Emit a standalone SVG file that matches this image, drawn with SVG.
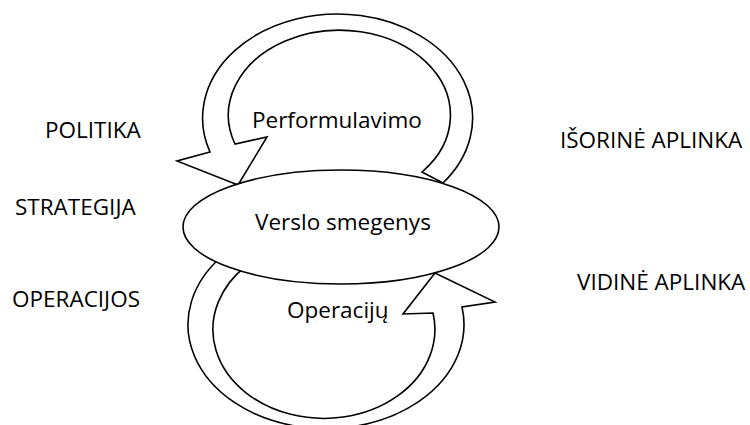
<svg xmlns="http://www.w3.org/2000/svg" width="750" height="425" viewBox="0 0 750 425">
<style>
.shape{fill:#fff;stroke:#000;stroke-width:1.6;stroke-linejoin:miter}
text{font-family:"Open Sans","Liberation Sans",sans-serif;font-size:22.5px;fill:#000}
</style>
<rect width="750" height="425" fill="#fff"/>
<g id="connectors">
<path id="arrow-top" class="shape" d="M443,183 A135,104 0 1 0 210,152 L177,161 L238,185 L267,137 L235,144 A111,85 0 1 1 422,172 Z"/>
<path id="arrow-bottom" class="shape" d="M220,258 A138,104 0 1 0 462,307 L495,302 L435,273 L403,314 L433,313 A111,89 0 1 1 246,266 Z"/>
</g>
<g id="node-brain">
<ellipse class="shape" cx="341" cy="227" rx="158" ry="57"/>
<text x="255" y="230">Verslo smegenys</text>
</g>
<g id="label-performulavimo"><text x="252" y="128">Performulavimo</text></g>
<g id="label-operaciju"><text x="287" y="318">Operacijų</text></g>
<g id="label-politika"><text x="45" y="138">POLITIKA</text></g>
<g id="label-strategija"><text x="15" y="215">STRATEGIJA</text></g>
<g id="label-operacijos"><text x="12" y="307">OPERACIJOS</text></g>
<g id="label-isorine"><text x="560" y="148">IŠORINĖ APLINKA</text></g>
<g id="label-vidine"><text x="577" y="290">VIDINĖ APLINKA</text></g>
</svg>
